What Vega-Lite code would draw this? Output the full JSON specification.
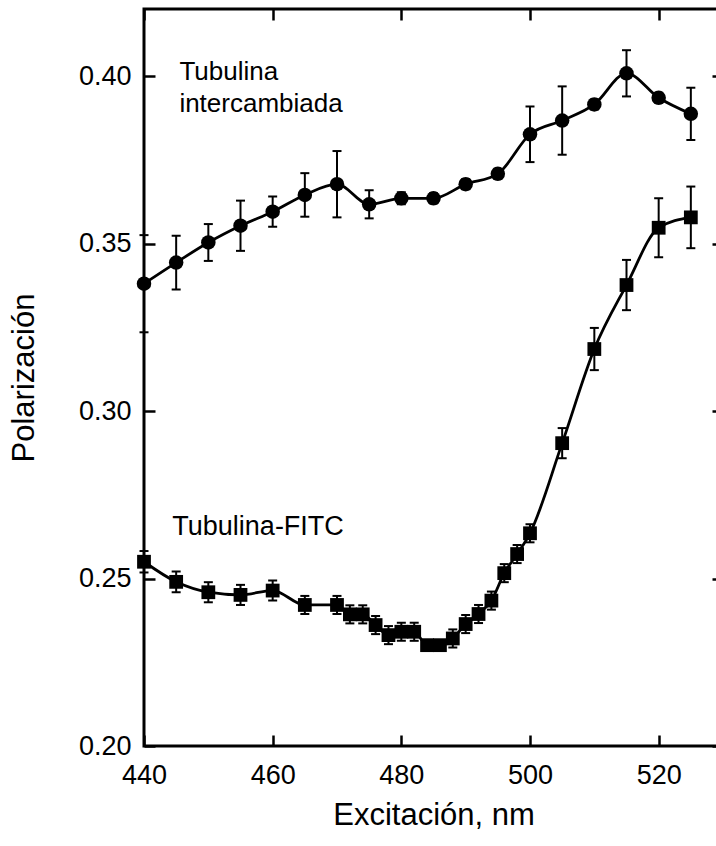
{
  "$schema": "https://vega.github.io/schema/vega-lite/v6.json",
  "width": 579,
  "height": 737,
  "autosize": "none",
  "padding": {"left": 144, "top": 9, "right": 0, "bottom": 100},
  "background": "white",
  "config": {
    "view": {"stroke": "black", "strokeWidth": 3},
    "font": "Liberation Sans",
    "axis": {
      "grid": false,
      "domain": false,
      "tickColor": "black",
      "tickWidth": 2.5,
      "tickSize": -11,
      "labelFont": "Liberation Sans",
      "labelFontSize": 27,
      "labelColor": "black",
      "labelFlush": false,
      "labelOverlap": false,
      "titleFont": "Liberation Sans",
      "titleFontSize": 31,
      "titleFontWeight": "normal",
      "titleColor": "black"
    }
  },
  "datasets": {
    "pts": [
      {"s": "A", "x": 440, "y": 0.338, "e": 0.0145},
      {"s": "A", "x": 445, "y": 0.3443, "e": 0.008},
      {"s": "A", "x": 450, "y": 0.3503, "e": 0.0055},
      {"s": "A", "x": 455, "y": 0.3553, "e": 0.0075},
      {"s": "A", "x": 460, "y": 0.3595, "e": 0.0045},
      {"s": "A", "x": 465, "y": 0.3645, "e": 0.0065},
      {"s": "A", "x": 470, "y": 0.3677, "e": 0.0099},
      {"s": "A", "x": 475, "y": 0.3617, "e": 0.0042},
      {"s": "A", "x": 480, "y": 0.3635, "e": 0.0018},
      {"s": "A", "x": 485, "y": 0.3635, "e": 0.0015},
      {"s": "A", "x": 490, "y": 0.3677, "e": 0.0015},
      {"s": "A", "x": 495, "y": 0.3708, "e": 0.0015},
      {"s": "A", "x": 500, "y": 0.3826, "e": 0.0083},
      {"s": "A", "x": 505, "y": 0.3867, "e": 0.0102},
      {"s": "A", "x": 510, "y": 0.3915, "e": 0.0015},
      {"s": "A", "x": 515, "y": 0.4008, "e": 0.0069},
      {"s": "A", "x": 520, "y": 0.3935, "e": 0.0015},
      {"s": "A", "x": 525, "y": 0.3887, "e": 0.0078},
      {"s": "B", "x": 440, "y": 0.255, "e": 0.0032},
      {"s": "B", "x": 445, "y": 0.249, "e": 0.0031},
      {"s": "B", "x": 450, "y": 0.2459, "e": 0.003},
      {"s": "B", "x": 455, "y": 0.2451, "e": 0.003},
      {"s": "B", "x": 460, "y": 0.2464, "e": 0.003},
      {"s": "B", "x": 465, "y": 0.2421, "e": 0.0027},
      {"s": "B", "x": 470, "y": 0.2421, "e": 0.0027},
      {"s": "B", "x": 472, "y": 0.2393, "e": 0.0027},
      {"s": "B", "x": 474, "y": 0.2393, "e": 0.0027},
      {"s": "B", "x": 476, "y": 0.2361, "e": 0.0027},
      {"s": "B", "x": 478, "y": 0.2331, "e": 0.0027},
      {"s": "B", "x": 480, "y": 0.2341, "e": 0.0027},
      {"s": "B", "x": 482, "y": 0.2341, "e": 0.0027},
      {"s": "B", "x": 484, "y": 0.2301, "e": 0.0015},
      {"s": "B", "x": 486, "y": 0.2301, "e": 0.0015},
      {"s": "B", "x": 488, "y": 0.2321, "e": 0.0027},
      {"s": "B", "x": 490, "y": 0.2364, "e": 0.0027},
      {"s": "B", "x": 492, "y": 0.2394, "e": 0.0027},
      {"s": "B", "x": 494, "y": 0.2434, "e": 0.0027},
      {"s": "B", "x": 496, "y": 0.2516, "e": 0.0027},
      {"s": "B", "x": 498, "y": 0.2573, "e": 0.0027},
      {"s": "B", "x": 500, "y": 0.2635, "e": 0.0027},
      {"s": "B", "x": 505, "y": 0.2904, "e": 0.0045},
      {"s": "B", "x": 510, "y": 0.3185, "e": 0.0063},
      {"s": "B", "x": 515, "y": 0.3376, "e": 0.0075},
      {"s": "B", "x": 520, "y": 0.3547, "e": 0.0088},
      {"s": "B", "x": 525, "y": 0.3578, "e": 0.0092}
    ],
    "labelsTop": [
      {"x": 445.5, "y": 0.3988, "t": "Tubulina"},
      {"x": 445.5, "y": 0.3893, "t": "intercambiada"}
    ],
    "labelsBottom": [
      {"x": 444.4, "y": 0.263, "t": "Tubulina-FITC"}
    ]
  },
  "layer": [
    {
      "data": {"name": "pts"},
      "mark": {"type": "errorbar", "color": "black",
               "rule": {"strokeWidth": 2, "color": "black", "opacity": 1},
               "ticks": {"size": 9, "thickness": 2, "color": "black", "opacity": 1}},
      "encoding": {
        "x": {"field": "x", "type": "quantitative",
              "scale": {"domain": [440, 530], "nice": false, "zero": false},
              "axis": {"orient": "top", "labels": false, "title": null, "values": [440, 460, 480, 500, 520]}},
        "y": {"field": "y", "type": "quantitative",
              "scale": {"domain": [0.2, 0.42], "nice": false, "zero": false},
              "axis": {"orient": "right", "labels": false, "title": null, "values": [0.2, 0.25, 0.3, 0.35, 0.4]}},
        "yError": {"field": "e"},
        "detail": {"field": "s"}
      }
    },
    {
      "data": {"name": "pts"},
      "mark": {"type": "line", "interpolate": "monotone", "color": "black", "strokeWidth": 2.8},
      "encoding": {
        "x": {"field": "x", "type": "quantitative",
              "scale": {"domain": [440, 530], "nice": false, "zero": false},
              "axis": {"orient": "bottom", "values": [440, 460, 480, 500, 520], "format": "d",
                       "labelPadding": 27, "title": "Excitación, nm", "titlePadding": 12}},
        "y": {"field": "y", "type": "quantitative",
              "scale": {"domain": [0.2, 0.42], "nice": false, "zero": false},
              "axis": {"orient": "left", "values": [0.2, 0.25, 0.3, 0.35, 0.4], "format": ".2f",
                       "labelPadding": 24, "title": "Polarización", "titlePadding": 38}},
        "detail": {"field": "s"}
      }
    },
    {
      "data": {"name": "pts"},
      "mark": {"type": "point", "filled": true, "color": "black", "opacity": 1},
      "encoding": {
        "x": {"field": "x", "type": "quantitative", "scale": {"domain": [440, 530], "nice": false, "zero": false}, "axis": null},
        "y": {"field": "y", "type": "quantitative", "scale": {"domain": [0.2, 0.42], "nice": false, "zero": false}, "axis": null},
        "shape": {"field": "s", "type": "nominal", "scale": {"domain": ["A", "B"], "range": ["circle", "square"]}, "legend": null},
        "size": {"field": "s", "type": "nominal", "scale": {"domain": ["A", "B"], "range": [210, 190]}, "legend": null}
      }
    },
    {
      "data": {"name": "labelsTop"},
      "mark": {"type": "text", "align": "left", "baseline": "alphabetic", "fontSize": 26, "font": "Liberation Sans", "color": "black"},
      "encoding": {
        "x": {"field": "x", "type": "quantitative", "scale": {"domain": [440, 530], "nice": false, "zero": false}, "axis": null},
        "y": {"field": "y", "type": "quantitative", "scale": {"domain": [0.2, 0.42], "nice": false, "zero": false}, "axis": null},
        "text": {"field": "t"}
      }
    },
    {
      "data": {"name": "labelsBottom"},
      "mark": {"type": "text", "align": "left", "baseline": "alphabetic", "fontSize": 27, "font": "Liberation Sans", "color": "black"},
      "encoding": {
        "x": {"field": "x", "type": "quantitative", "scale": {"domain": [440, 530], "nice": false, "zero": false}, "axis": null},
        "y": {"field": "y", "type": "quantitative", "scale": {"domain": [0.2, 0.42], "nice": false, "zero": false}, "axis": null},
        "text": {"field": "t"}
      }
    }
  ],
  "resolve": {"axis": {"x": "independent", "y": "independent"}}
}
